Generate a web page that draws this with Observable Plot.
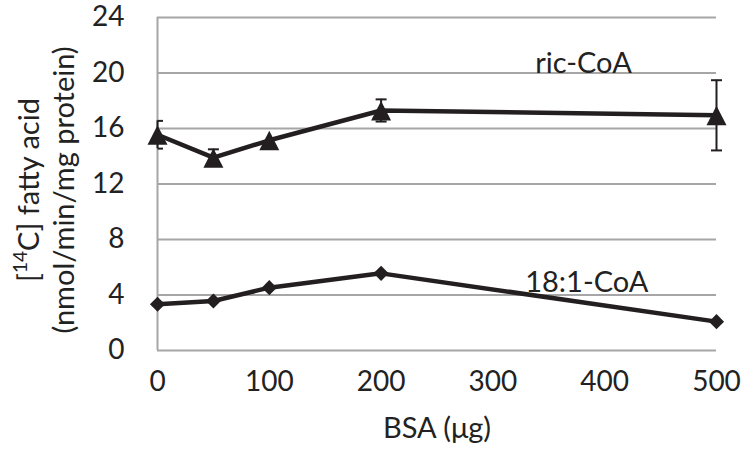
<!DOCTYPE html>
<html>
<head>
<meta charset="utf-8">
<script src="https://cdn.jsdelivr.net/npm/d3@7"></script>
<script src="https://cdn.jsdelivr.net/npm/@observablehq/plot@0.6"></script>
<style>
  html, body { margin: 0; padding: 0; background: #fff; }
</style>
</head>
<body>
<div id="chart"></div>
<script>
const bsa = [0, 50, 100, 200, 500];
const ricCoA = [15.55, 13.9, 15.15, 17.3, 16.95];
const ricErr = [1.0, 0.6, 0, 0.8, 2.53];
const oleoylCoA = [3.33, 3.57, 4.53, 5.56, 2.08];
const xTicks = [0, 100, 200, 300, 400, 500];
const yTicks = [0, 4, 8, 12, 16, 20, 24];
const seriesLabels = [
  {text: "ric-CoA", x: 381, y: 20.7},
  {text: "18:1-CoA", x: 384, y: 4.9}
];

const ric = bsa.map((x, i) => ({x, y: ricCoA[i], e: ricErr[i]}));
const ole = bsa.map((x, i) => ({x, y: oleoylCoA[i]}));
const errs = ric.filter(d => d.e > 0);
const errsEdge = errs.filter(d => d.x === 0);
const errsIn = errs.filter(d => d.x !== 0);

const ink = "#231f20";
const grid = "#a6a6a6";
const FS = 29;
const cap = {draw(ctx) { ctx.moveTo(-5.5, 0); ctx.lineTo(5.5, 0); }};
const halfCap = {draw(ctx) { ctx.moveTo(0, 0); ctx.lineTo(5.5, 0); }};
const tri = {draw(ctx) { ctx.moveTo(0, -9.5); ctx.lineTo(10, 10); ctx.lineTo(-10, 10); ctx.closePath(); }};
const capStyle = {fill: "none", stroke: ink, strokeWidth: 2};

const plot = Plot.plot({
  width: 750,
  height: 452,
  marginLeft: 157,
  marginRight: 34,
  marginTop: 17,
  marginBottom: 102,
  style: {fontFamily: "Lato, sans-serif", fontSize: "28px", color: "#222", background: "#fff", overflow: "visible"},
  x: {domain: [0, 500], ticks: xTicks, tickSize: 0, tickPadding: 21, label: null},
  y: {domain: [0, 24], ticks: yTicks, tickSize: 0, tickPadding: 33, label: null},
  marks: [
    Plot.ruleY(yTicks, {stroke: grid, strokeWidth: 2}),
    Plot.ruleX([0], {stroke: grid, strokeWidth: 2}),
    Plot.ruleX(errs, {x: "x", y1: d => d.y - d.e, y2: d => d.y + d.e, stroke: ink, strokeWidth: 2}),
    Plot.dot(errsIn, {x: "x", y: d => d.y + d.e, symbol: cap, ...capStyle}),
    Plot.dot(errsIn, {x: "x", y: d => d.y - d.e, symbol: cap, ...capStyle}),
    Plot.dot(errsEdge, {x: "x", y: d => d.y + d.e, symbol: halfCap, ...capStyle}),
    Plot.dot(errsEdge, {x: "x", y: d => d.y - d.e, symbol: halfCap, ...capStyle}),
    Plot.line(ric, {x: "x", y: "y", stroke: ink, strokeWidth: 4.5}),
    Plot.line(ole, {x: "x", y: "y", stroke: ink, strokeWidth: 4.5}),
    Plot.dot(ric, {x: "x", y: "y", symbol: tri, fill: ink, stroke: "none"}),
    Plot.dot(ole, {x: "x", y: "y", symbol: "diamond2", r: 6.8, fill: ink, stroke: "none"}),
    Plot.text(seriesLabels, {x: "x", y: "y", text: "text", fill: "#222", fontSize: FS}),
    Plot.text(["BSA (μg)"], {frameAnchor: "bottom", dy: 87, fill: "#222", fontSize: FS})
  ]
});

document.getElementById("chart").appendChild(plot);

// Two-line rotated y-axis title with superscript
const svg = d3.select(plot);
const t1 = svg.append("text")
  .attr("transform", "translate(27,190) rotate(-90)")
  .attr("text-anchor", "middle")
  .attr("dominant-baseline", "central")
  .attr("fill", "#222")
  .attr("font-size", FS)
  .attr("font-family", "Lato, sans-serif");
t1.append("tspan").text("[");
t1.append("tspan").attr("dy", "-0.4em").attr("font-size", 19).text("14");
t1.append("tspan").attr("dy", "0.26em").text("C] fatty acid");
svg.append("text")
  .attr("transform", "translate(62,190) rotate(-90)")
  .attr("text-anchor", "middle")
  .attr("dominant-baseline", "central")
  .attr("fill", "#222")
  .attr("font-size", FS)
  .attr("font-family", "Lato, sans-serif")
  .text("(nmol/min/mg protein)");
</script>
</body>
</html>
